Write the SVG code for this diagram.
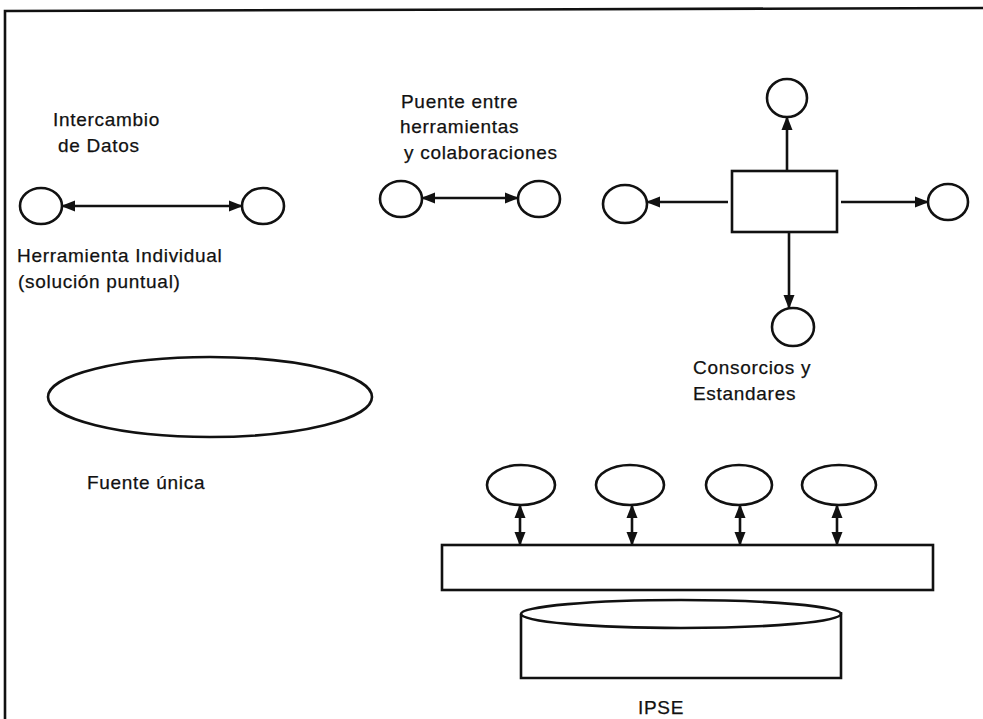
<svg xmlns="http://www.w3.org/2000/svg" width="983" height="719" viewBox="0 0 983 719">
<defs>
<marker id="ah" markerUnits="userSpaceOnUse" markerWidth="14" markerHeight="12" viewBox="0 0 14 12" refX="13" refY="6" orient="auto-start-reverse">
<path d="M0,0.5 L14,6 L0,11.5 Z" fill="#111"/>
</marker>
</defs>
<style>
.s{fill:none;stroke:#111;stroke-width:2.6}
.w{fill:#fff;stroke:#111;stroke-width:2.6}
.c{fill:none;stroke:#111;stroke-width:2.6}
.t{font-family:"Liberation Sans",Arial,sans-serif;font-size:19px;fill:#111;stroke:#111;stroke-width:0.25;letter-spacing:0.7px}
</style>
<rect width="983" height="719" fill="#fff"/>
<g id="frame">
<path class="s" d="M5,719 L5,11 L983,8"/>
</g>
<g id="labels">
<text class="t" x="53" y="126">Intercambio</text>
<text class="t" x="58" y="152">de Datos</text>
<text class="t" x="17" y="262">Herramienta Individual</text>
<text class="t" x="18" y="288">(solución puntual)</text>
<text class="t" x="401" y="108">Puente entre</text>
<text class="t" x="400" y="133">herramientas</text>
<text class="t" x="404" y="159">y colaboraciones</text>
<text class="t" x="693" y="374">Consorcios y</text>
<text class="t" x="693" y="400">Estandares</text>
<text class="t" x="87" y="489">Fuente única</text>
<text class="t" x="638" y="714">IPSE</text>
</g>
<g id="n1a"><ellipse class="w" cx="41" cy="206" rx="21" ry="18"/></g>
<g id="n1b"><ellipse class="w" cx="263" cy="206" rx="21" ry="18"/></g>
<g id="n2a"><ellipse class="w" cx="401" cy="199" rx="21" ry="18"/></g>
<g id="n2b"><ellipse class="w" cx="539" cy="199" rx="21" ry="18"/></g>
<g id="hub"><rect class="w" x="732" y="171" width="105" height="61"/></g>
<g id="n3top"><ellipse class="w" cx="787" cy="98" rx="20" ry="19"/></g>
<g id="n3left"><ellipse class="w" cx="625" cy="204" rx="22" ry="19"/></g>
<g id="n3right"><ellipse class="w" cx="948" cy="202" rx="20" ry="18"/></g>
<g id="n3bottom"><ellipse class="w" cx="793" cy="327" rx="21" ry="19"/></g>
<g id="fuente"><ellipse class="w" cx="210" cy="397" rx="162" ry="40"/></g>
<g id="t1"><ellipse class="w" cx="521" cy="485" rx="34" ry="20"/></g>
<g id="t2"><ellipse class="w" cx="630" cy="485" rx="34" ry="20"/></g>
<g id="t3"><ellipse class="w" cx="739" cy="485" rx="33" ry="20"/></g>
<g id="t4"><ellipse class="w" cx="839" cy="485" rx="37" ry="20"/></g>
<g id="bar"><rect class="w" x="442" y="545" width="491" height="45"/></g>
<g id="ipse">
<path class="c" d="M521,614 L521,678 L841,678 L841,612"/>
<ellipse class="c" cx="681" cy="614" rx="160" ry="14"/>
</g>
<g id="connectors">
<line class="s" x1="62" y1="206" x2="242" y2="206" marker-start="url(#ah)" marker-end="url(#ah)"/>
<line class="s" x1="422" y1="198" x2="518" y2="198" marker-start="url(#ah)" marker-end="url(#ah)"/>
<line class="s" x1="787" y1="171" x2="787" y2="117" marker-end="url(#ah)"/>
<line class="s" x1="728" y1="202" x2="647" y2="202" marker-end="url(#ah)"/>
<line class="s" x1="841" y1="202" x2="928" y2="202" marker-end="url(#ah)"/>
<line class="s" x1="789" y1="232" x2="789" y2="308" marker-end="url(#ah)"/>
<line class="s" x1="520" y1="505" x2="520" y2="545" marker-start="url(#ah)" marker-end="url(#ah)"/>
<line class="s" x1="632" y1="505" x2="632" y2="545" marker-start="url(#ah)" marker-end="url(#ah)"/>
<line class="s" x1="740" y1="505" x2="740" y2="545" marker-start="url(#ah)" marker-end="url(#ah)"/>
<line class="s" x1="837" y1="505" x2="837" y2="545" marker-start="url(#ah)" marker-end="url(#ah)"/>
</g>
</svg>
